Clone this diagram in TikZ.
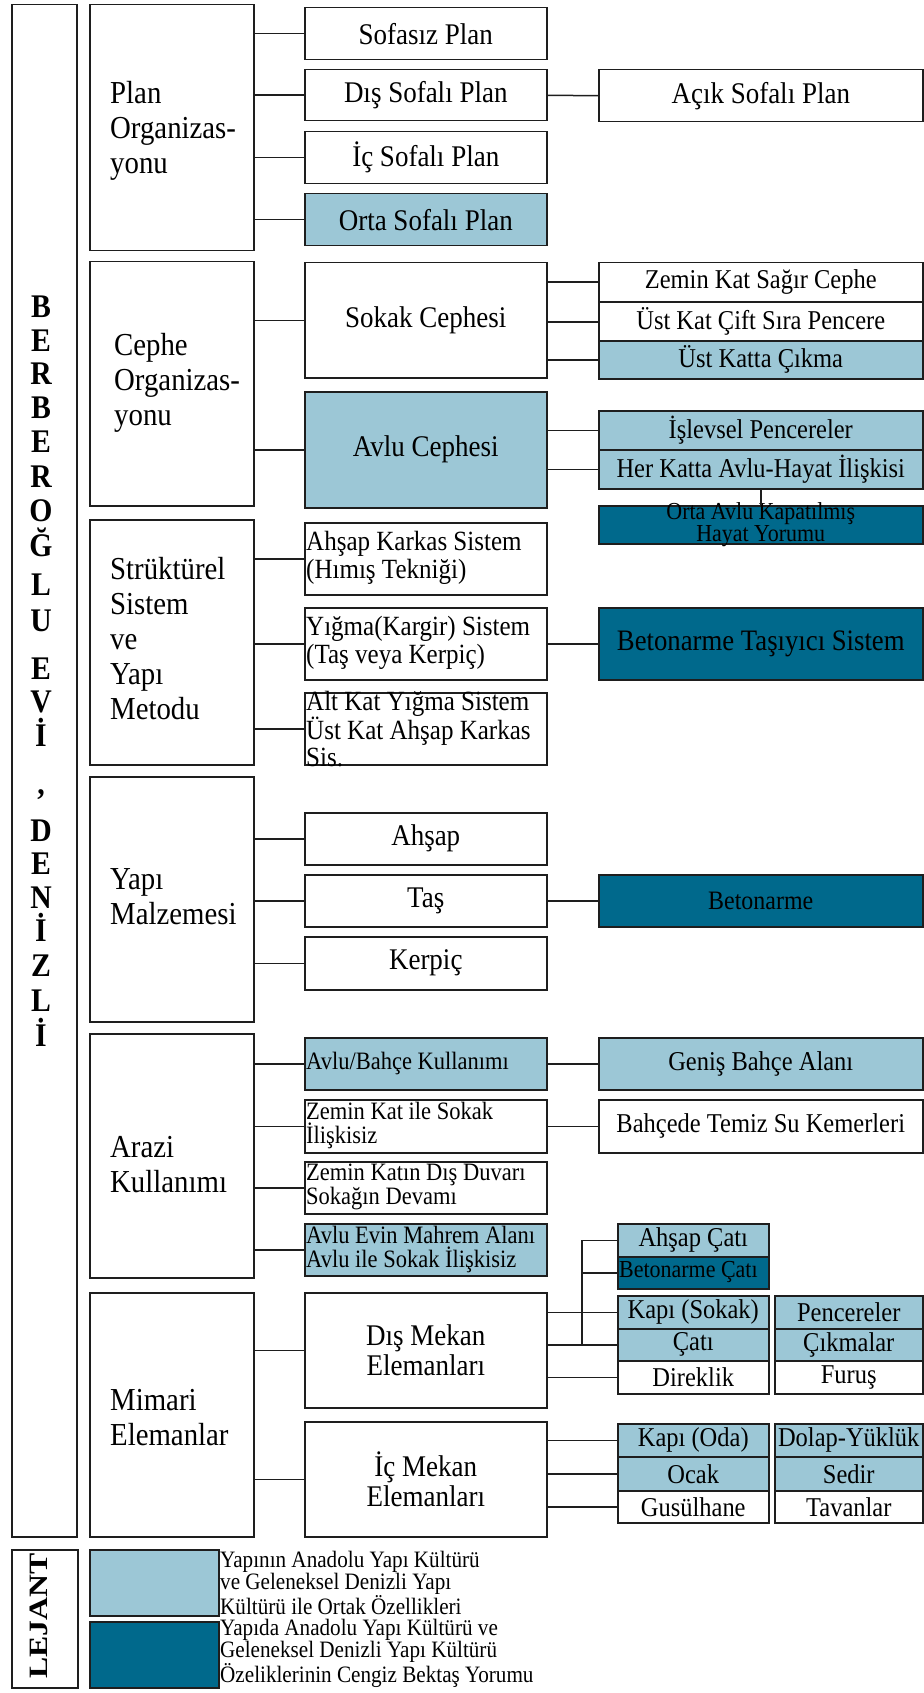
\documentclass[tikz,border=0pt]{standalone}
\usepackage{fontspec}
\setmainfont{Liberation Serif}[FakeStretch=0.9]
\newfontfamily\widefont{Liberation Serif}[FakeStretch=1.2]
\hyphenpenalty=10000
\exhyphenpenalty=10000
\definecolor{lb}{RGB}{156,199,214}
\definecolor{db}{RGB}{0,105,140}
\definecolor{ln}{RGB}{30,30,30}
\newcommand\fs[2]{\fontsize{#1}{#2}\selectfont}
\begin{document}
\begin{tikzpicture}[x=1pt,y=-1pt,
 bx/.style={draw=ln,line width=1.5pt,inner sep=0pt,anchor=north west,align=center},
 cat/.style={bx,minimum width=164pt},
 l2/.style={bx,minimum width=242pt,font=\fs{30}{31}},
 l2b/.style={bx,minimum width=242pt},
 l3/.style={bx,minimum width=324pt,font=\fs{27.2}{28}},
 ca/.style={bx,minimum width=151pt,font=\fs{27.2}{28}},
 cb/.style={bx,minimum width=148pt,font=\fs{27.2}{28}},
 lt/.style={anchor=west,align=left,inner sep=0pt},
 stxt/.style={lt,font=\fs{27.8}{28}},
 atxt/.style={lt,font=\fs{25}{24}},
 cattxt/.style={lt,font=\fs{32}{35}},
 ttl/.style={anchor=base,inner sep=0pt,font=\fs{33}{33}\bfseries},
 leg/.style={anchor=north west,align=left,inner sep=0pt,font=\fs{23.5}{21.6}},
 con/.style={draw=ln,line width=1.5pt},
 lbf/.style={fill=lb}, dbf/.style={fill=db}]
\useasboundingbox (0,0) rectangle (923,1693);

% title and legend frames
\node[bx,minimum width=65pt,minimum height=1532pt] (tbox) at (11,4) {};
\node[bx,minimum width=66pt,minimum height=138pt] (lbox) at (11,1549) {};
\foreach \c/\y [count=\i] in {B/307,E/340,R/373,B/407,E/441,R/476,O/510,Ğ/545,L/584,U/620,E/668,V/701,İ/735,D/830,E/863,N/897,İ/930,Z/965,L/1000,İ/1035}
  \node[ttl] (t\i) at (41,\y+11) {\c};
\node[inner sep=0pt,font=\fs{33}{33}\bfseries] (tcomma) at (41,795) {,};
\node[rotate=90,inner sep=0pt,font=\widefont\fs{26.5}{26.5}\bfseries] (lej) at (39,1616) {LEJANT};

% categories
\node[cat,minimum height=246pt] (cat1) at (89,4) {};
\node[cat,minimum height=244pt] (cat2) at (89,261) {};
\node[cat,minimum height=245pt] (cat3) at (89,519) {};
\node[cat,minimum height=245pt] (cat4) at (89,776) {};
\node[cat,minimum height=244pt] (cat5) at (89,1033) {};
\node[cat,minimum height=244pt] (cat6) at (89,1292) {};
\node[cattxt] (cat1t) at (110,131) {Plan\\Organizas-\\yonu};
\node[cattxt] (cat2t) at (114,383) {Cephe\\Organizas-\\yonu};
\node[cattxt] (cat3t) at (110,639) {Strüktürel\\Sistem\\ve\\Yapı\\Metodu};
\node[cattxt] (cat4t) at (110,897) {Yapı\\Malzemesi};
\node[cattxt] (cat5t) at (110,1165) {Arazi\\Kullanımı};
\node[cattxt] (cat6t) at (110,1418) {Mimari\\Elemanlar};

% plan
\node[l2,minimum height=52pt] (p1) at (304,7) {Sofasız Plan};
\node[l2,minimum height=51pt] (p2) at (304,69) {Dış Sofalı Plan};
\node[l2,minimum height=52pt] (p3) at (304,131) {İç Sofalı Plan};
\node[l2,lbf,minimum height=52pt] (p4) at (304,193) {Orta Sofalı Plan};
\node[l3,minimum height=52pt,font=\fs{30}{31}] (p5) at (598,69) {Açık Sofalı Plan};

% cephe
\node[l2,minimum height=115pt] (c1) at (304,262) {Sokak Cephesi};
\node[l2,lbf,minimum height=116pt] (c2) at (304,391) {Avlu Cephesi};
\node[l3,minimum height=39pt] (c3) at (598,262) {Zemin Kat Sağır Cephe};
\node[l3,minimum height=38pt] (c4) at (598,302) {Üst Kat Çift Sıra Pencere};
\node[l3,lbf,minimum height=38pt] (c5) at (598,340) {Üst Katta Çıkma};
\node[l3,lbf,minimum height=39pt] (c6) at (598,410) {İşlevsel Pencereler};
\node[l3,lbf,minimum height=39pt] (c7) at (598,449) {Her Katta Avlu-Hayat İlişkisi};
\node[l3,dbf,minimum height=38pt] (c8) at (598,505) {};
\node[inner sep=0pt,align=center,font=\fs{24.4}{20}] (c8t) at (c8.center) {Orta Avlu Kapatılmış\\Hayat Yorumu};

% structure
\node[l2b,minimum height=72pt] (s1) at (304,522) {};
\node[l2b,minimum height=72pt] (s2) at (304,607) {};
\node[l2b,minimum height=72pt] (s3) at (304,692) {};
\node[stxt] (s1t) at (306,558) {Ahşap Karkas Sistem\\(Hımış Tekniği)};
\node[stxt] (s2t) at (306,643) {Yığma(Kargir) Sistem\\(Taş veya Kerpiç)};
\node[lt,font=\fs{27.8}{27}] (s3t) at (306,729) {Alt Kat Yığma Sistem\\Üst Kat Ahşap Karkas\\Sis.};
\node[l3,dbf,minimum height=72pt,font=\fs{29.7}{30}] (s4) at (598,607) {Betonarme Taşıyıcı Sistem};

% material
\node[l2,minimum height=52pt] (m1) at (304,812) {Ahşap};
\node[l2,minimum height=52pt] (m2) at (304,874) {Taş};
\node[l2,minimum height=53pt] (m3) at (304,936) {Kerpiç};
\node[l3,dbf,minimum height=52pt,font=\fs{26.6}{28}] (m4) at (598,874) {Betonarme};

% land use
\node[l2b,lbf,minimum height=52pt] (a1) at (304,1037) {};
\node[l2b,minimum height=53pt] (a2) at (304,1099) {};
\node[l2b,minimum height=52pt] (a3) at (304,1161) {};
\node[l2b,lbf,minimum height=52pt] (a4) at (304,1223) {};
\node[atxt] (a1t) at (306,1063) {Avlu/Bahçe Kullanımı};
\node[atxt] (a2t) at (306,1125) {Zemin Kat ile Sokak\\İlişkisiz};
\node[atxt] (a3t) at (306,1187) {Zemin Katın Dış Duvarı\\Sokağın Devamı};
\node[atxt] (a4t) at (306,1249) {Avlu Evin Mahrem Alanı\\Avlu ile Sokak İlişkisiz};
\node[l3,lbf,minimum height=52pt] (a5) at (598,1037) {Geniş Bahçe Alanı};
\node[l3,minimum height=53pt] (a6) at (598,1099) {Bahçede Temiz Su Kemerleri};

% architectural elements
\node[l2,minimum height=115pt,font=\fs{30}{30}] (e1) at (304,1292) {Dış Mekan\\Elemanları};
\node[l2,minimum height=115pt,font=\fs{30}{30}] (e2) at (304,1421) {İç Mekan\\Elemanları};
\node[ca,lbf,minimum height=33pt] (k1) at (617,1223) {Ahşap Çatı};
\node[ca,dbf,minimum height=32pt] (k2) at (617,1256) {};
\node[lt,font=\fs{24.4}{24}] (k2t) at (619,1272) {Betonarme Çatı};
\node[ca,lbf,minimum height=33pt] (k3) at (617,1295) {Kapı (Sokak)};
\node[cb,lbf,minimum height=33pt] (k4) at (774,1295) {Pencereler};
\node[ca,lbf,minimum height=32pt] (k5) at (617,1328) {Çatı};
\node[cb,lbf,minimum height=32pt] (k6) at (774,1328) {Çıkmalar};
\node[ca,minimum height=33pt] (k7) at (617,1360) {Direklik};
\node[cb,minimum height=33pt] (k8) at (774,1360) {Furuş};
\node[ca,lbf,minimum height=33pt] (k9) at (617,1423) {Kapı (Oda)};
\node[cb,lbf,minimum height=33pt] (k10) at (774,1423) {Dolap-Yüklük};
\node[ca,lbf,minimum height=34pt] (k11) at (617,1456) {Ocak};
\node[cb,lbf,minimum height=34pt] (k12) at (774,1456) {Sedir};
\node[ca,minimum height=32pt] (k13) at (617,1490) {Gusülhane};
\node[cb,minimum height=32pt] (k14) at (774,1490) {Tavanlar};

% legend
\node[bx,lbf,minimum width=129pt,minimum height=66pt] (sw1) at (89,1549) {};
\node[bx,dbf,minimum width=129pt,minimum height=66pt] (sw2) at (89,1621) {};
\node[leg] (lg1) at (220,1551) {Yapının Anadolu Yapı Kültürü\\ve Geleneksel Denizli Yapı\\Kültürü ile Ortak Özellikleri};
\node[leg] (lg2) at (220,1619) {Yapıda Anadolu Yapı Kültürü ve\\Geleneksel Denizli Yapı Kültürü\\Özeliklerinin Cengiz Bektaş Yorumu};

% connectors
\foreach \a/\b in {cat1/p1,cat1/p2,cat1/p3,cat1/p4,cat2/c1,cat2/c2,c1/c3,c1/c4,c1/c5,c2/c6,c2/c7,
  cat3/s1,cat3/s2,cat3/s3,cat4/m1,cat4/m2,cat4/m3,cat5/a1,cat5/a2,cat5/a3,cat5/a4,cat6/e1,cat6/e2,
  e1/k3,e1/k5,e1/k7,e2/k9,e2/k11,e2/k13}
  \draw[con] (\a.east |- \b.west) -- (\b.west);
\draw[con] (p2.east) -- (p5.west);
\draw[con] (s2.east) -- (s4.west);
\draw[con] (m2.east) -- (m4.west);
\draw[con] (a1.east) -- (a5.west);
\draw[con] (a2.east) -- (a6.west);
\draw[con] (c7.south) -- (c8.north);
\coordinate (bus) at (582,1240);
\draw[con] (bus |- k1.west) -- (k1.west);
\draw[con] (bus |- k2.west) -- (k2.west);
\draw[con] (bus |- k1.west) -- (bus |- k5.west);
\end{tikzpicture}
\end{document}
